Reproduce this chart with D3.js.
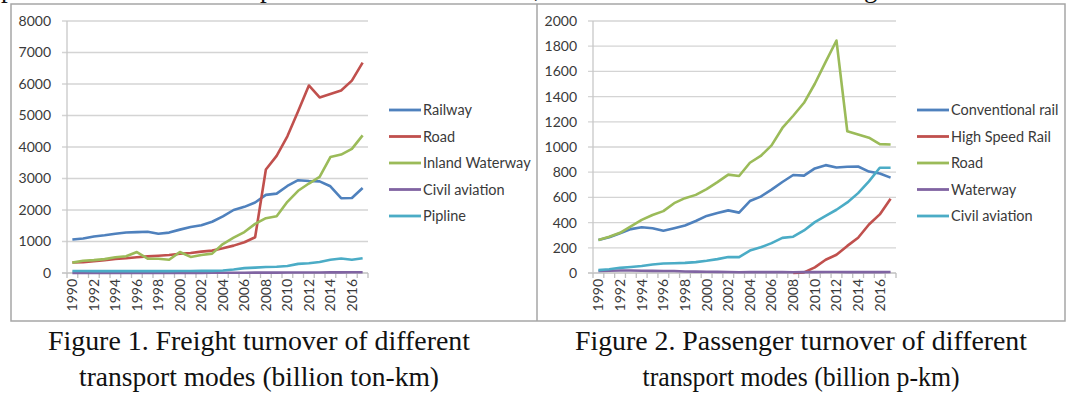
<!DOCTYPE html>
<html>
<head>
<meta charset="utf-8">
<script src="https://cdn.jsdelivr.net/npm/d3@7"></script>
<style>
  html, body { margin: 0; padding: 0; background: #fff; }
  svg { display: block; }
  .tick-label { font-family: Lato, "Open Sans", sans-serif; font-size: 14px; fill: #3a3a3a; }
  .legend-label { font-family: Lato, "Open Sans", sans-serif; font-size: 14.5px; fill: #3a3a3a; }
  .caption { font-family: "Liberation Serif", "DejaVu Serif", serif; font-size: 27px; fill: #111; }
</style>
</head>
<body>
<svg id="chart" width="1080" height="397"></svg>
<script>
// years on the category axis
const years = d3.range(1990, 2018);
const yearLabels = d3.range(1990, 2017, 2);

// Figure 1: freight turnover (billion ton-km)
const freightNames = ["Railway", "Road", "Inland Waterway", "Civil aviation", "Pipline"];
const railwayFreight = [1062, 1097, 1157, 1196, 1246, 1287, 1298, 1310, 1244, 1283, 1377, 1458, 1517, 1626, 1799, 2000, 2100, 2240, 2480, 2520, 2764, 2946, 2919, 2910, 2753, 2375, 2379, 2696];
const roadFreight = [335, 343, 376, 407, 449, 470, 501, 527, 548, 572, 613, 633, 678, 710, 784, 869, 975, 1135, 3287, 3719, 4339, 5137, 5953, 5574, 5685, 5796, 6108, 6677];
const waterwayFreight = [330, 390, 410, 440, 500, 530, 665, 455, 450, 420, 665, 510, 570, 615, 920, 1120, 1300, 1560, 1740, 1800, 2260, 2610, 2840, 3050, 3680, 3760, 3940, 4370];
const aviationFreight = [1, 1, 1, 2, 2, 2, 2, 3, 3, 4, 5, 4, 5, 6, 7, 8, 9, 12, 12, 13, 18, 17, 16, 17, 19, 21, 22, 24];
const pipelineFreight = [63, 62, 58, 58, 59, 59, 59, 58, 59, 60, 64, 65, 68, 69, 81, 110, 155, 170, 190, 200, 220, 289, 310, 350, 420, 460, 420, 470];
const freightTicks = d3.range(0, 8001, 1000);

// Figure 2: passenger turnover (billion p-km)
const passengerNames = ["Conventional rail", "High Speed Rail", "Road", "Waterway", "Civil aviation"];
const conventionalRail = [261, 283, 315, 348, 363, 355, 335, 355, 377, 413, 453, 477, 497, 479, 571, 606, 662, 722, 778, 773, 830, 856, 837, 843, 845, 805, 790, 757];
const highSpeedRail = [null, null, null, null, null, null, null, null, null, null, null, null, null, null, null, null, null, null, 0, 5, 45, 105, 145, 215, 280, 385, 465, 590];
const roadPassenger = [262, 287, 319, 370, 422, 460, 491, 554, 594, 620, 666, 721, 781, 770, 875, 929, 1013, 1151, 1248, 1351, 1502, 1676, 1845, 1125, 1100, 1074, 1023, 1020];
const waterwayPassenger = [16, 18, 20, 20, 18, 17, 16, 16, 12, 11, 10, 9, 8, 6, 7, 7, 7, 8, 6, 7, 7, 8, 8, 7, 7, 7, 7, 8];
const aviationPassenger = [23, 30, 41, 48, 55, 68, 75, 77, 80, 86, 97, 110, 127, 126, 178, 204, 237, 279, 288, 338, 404, 454, 502, 560, 634, 727, 835, 835];
const passengerTicks = d3.range(0, 2001, 200);

const captions1 = ["Figure 1. Freight turnover of different", "transport modes (billion ton-km)"];
const captions2 = ["Figure 2. Passenger turnover of different", "transport modes (billion p-km)"];

const seriesColors = ["#4F81BD", "#C0504D", "#9BBB59", "#8064A2", "#4BACC6"];

const svg = d3.select("#chart");

// frame round both charts
svg.append("rect")
    .attr("x", 11).attr("y", 4)
    .attr("width", 1054).attr("height", 317)
    .attr("fill", "none")
    .attr("stroke", "#a6a6a6")
    .attr("stroke-width", 1.5);
svg.append("line")
    .attr("x1", 537).attr("x2", 537)
    .attr("y1", 4).attr("y2", 321)
    .attr("stroke", "#a6a6a6")
    .attr("stroke-width", 1.5);

// bottoms of the line of text above the figure
const topFragments = [["p", 1], ["p", 260], [",", 534], ["g", 864]];
topFragments.forEach(([ch, x]) => {
    svg.append("text").attr("class", "caption").attr("x", x).attr("y", -3).text(ch);
});

drawChart({
    left: 67, right: 368, top: 21, bottom: 273,
    maxValue: 8000, ticks: freightTicks,
    names: freightNames,
    series: [railwayFreight, roadFreight, waterwayFreight, aviationFreight, pipelineFreight],
    captions: captions1, captionX: 259, captionWidths: [422, 360]
});

drawChart({
    left: 593, right: 896, top: 21, bottom: 273,
    maxValue: 2000, ticks: passengerTicks,
    names: passengerNames,
    series: [conventionalRail, highSpeedRail, roadPassenger, waterwayPassenger, aviationPassenger],
    captions: captions2, captionX: 801, captionWidths: [452, 317]
});


function drawChart(opt) {
    const g = svg.append("g");

    const xScale = d3.scaleBand()
        .domain(years)
        .range([opt.left, opt.right]);

    const yScale = d3.scaleLinear()
        .domain([0, opt.maxValue])
        .range([opt.bottom, opt.top]);

    // gridlines (they run out past the axis as tick marks)
    g.append("g")
        .selectAll("line")
        .data(opt.ticks)
        .enter()
        .append("line")
        .attr("x1", opt.left - 5)
        .attr("x2", opt.right)
        .attr("y1", d => yScale(d))
        .attr("y2", d => yScale(d))
        .attr("stroke", d => d === 0 ? "#bfbfbf" : "#d4d4d4")
        .attr("stroke-width", 1.3);

    // y axis line
    g.append("line")
        .attr("x1", opt.left).attr("x2", opt.left)
        .attr("y1", opt.top).attr("y2", opt.bottom)
        .attr("stroke", "#c8c8c8")
        .attr("stroke-width", 1.3);

    g.append("g")
        .selectAll("text")
        .data(opt.ticks)
        .enter()
        .append("text")
        .attr("class", "tick-label")
        .attr("text-anchor", "end")
        .attr("x", opt.left - 16)
        .attr("y", d => yScale(d))
        .attr("dy", "0.35em")
        .text(d => d);

    // category tick marks sit between the years
    const boundaries = years.map(d => xScale(d)).concat([xScale.range()[1]]);
    g.append("g")
        .selectAll("line")
        .data(boundaries)
        .enter()
        .append("line")
        .attr("x1", d => d).attr("x2", d => d)
        .attr("y1", opt.bottom).attr("y2", opt.bottom + 5)
        .attr("stroke", "#bfbfbf")
        .attr("stroke-width", 1.3);

    g.append("g")
        .selectAll("text")
        .data(yearLabels)
        .enter()
        .append("text")
        .attr("class", "tick-label")
        .attr("text-anchor", "end")
        .attr("transform", d => `translate(${xScale(d) + xScale.bandwidth() / 2}, ${opt.bottom + 6}) rotate(-90)`)
        .attr("dy", "0.35em")
        .text(d => d);

    const line = d3.line()
        .defined(d => d[1] !== null)
        .x(d => xScale(d[0]) + xScale.bandwidth() / 2)
        .y(d => yScale(d[1]));

    opt.series.forEach((values, i) => {
        g.append("path")
            .datum(years.map((year, j) => [year, values[j]]))
            .attr("fill", "none")
            .attr("stroke", seriesColors[i])
            .attr("stroke-width", 2.6)
            .attr("stroke-linejoin", "round")
            .attr("d", line);
    });

    // legend
    const legend = g.append("g");
    opt.names.forEach((name, i) => {
        const ly = 110 + i * 26.5;
        legend.append("line")
            .attr("x1", opt.right + 21).attr("x2", opt.right + 53)
            .attr("y1", ly).attr("y2", ly)
            .attr("stroke", seriesColors[i])
            .attr("stroke-width", 2.8);
        legend.append("text")
            .attr("class", "legend-label")
            .attr("x", opt.right + 55)
            .attr("y", ly)
            .attr("dy", "0.35em")
            .text(name);
    });

    // caption under the chart
    opt.captions.forEach((text, i) => {
        svg.append("text")
            .attr("class", "caption")
            .attr("text-anchor", "middle")
            .attr("x", opt.captionX)
            .attr("y", 350 + i * 36)
            .attr("textLength", opt.captionWidths[i])
            .attr("lengthAdjust", "spacingAndGlyphs")
            .text(text);
    });
}
</script>
</body>
</html>
